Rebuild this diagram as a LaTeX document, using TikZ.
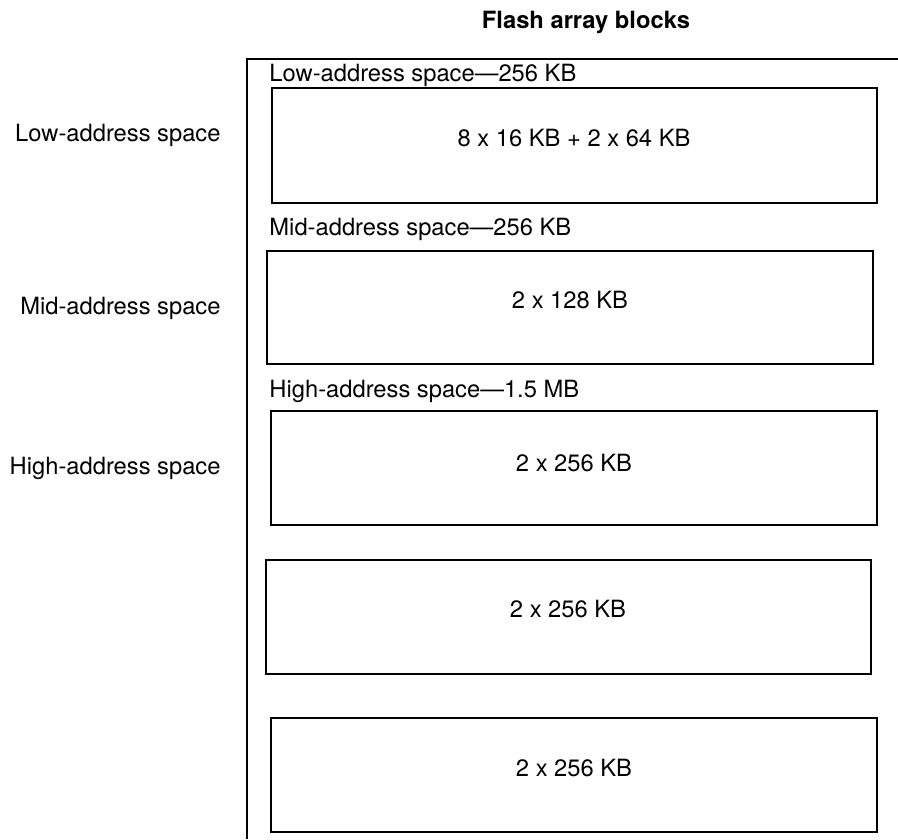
\documentclass[tikz,border=0pt]{standalone}
\usepackage{fontspec}
\setmainfont{TeX Gyre Heros}
\begin{document}
\begin{tikzpicture}[x=0.75pt,y=-0.75pt,line width=2.2pt,
  lbl/.style={inner sep=0pt,font=\fontsize{17.8}{21}\selectfont},
  side/.style={lbl,anchor=east},
  head/.style={lbl,anchor=west}]
\useasboundingbox (0,0) rectangle (898,839);
\node[lbl,font=\fontsize{17.8}{21}\selectfont\bfseries] (title) at (586,22) {Flash array blocks};

\coordinate (tl) at (247,59);
\coordinate (tr) at (898,59);
\coordinate (bl) at (247,839);
\draw (tr) -- (tl) -- (bl);

\node[side] (lowside) at (222,135) {Low-address space};
\node[side] (midside) at (222,308) {Mid-address space};
\node[side] (highside) at (222,468) {High-address space};

\node[head] (lowhead) at (268,75) {Low-address space---256 KB};
\node[head] (midhead) at (268,229) {Mid-address space---256 KB};
\node[head] (highhead) at (268,391) {High-address space---1.5 MB};

\draw (272,88) rectangle (877,203);
\node[lbl] (lowblk) at (574,138) {8 x 16 KB + 2 x 64 KB};
\draw (267,251) rectangle (873,364);
\node[lbl] (midblk) at (570,300) {2 x 128 KB};
\draw (271,411) rectangle (877,525);
\node[lbl] (highblka) at (574,463) {2 x 256 KB};
\draw (266,560) rectangle (871,674);
\node[lbl] (highblkb) at (568,609) {2 x 256 KB};
\draw (271,718) rectangle (877,832);
\node[lbl] (highblkc) at (574,768) {2 x 256 KB};
\end{tikzpicture}
\end{document}
